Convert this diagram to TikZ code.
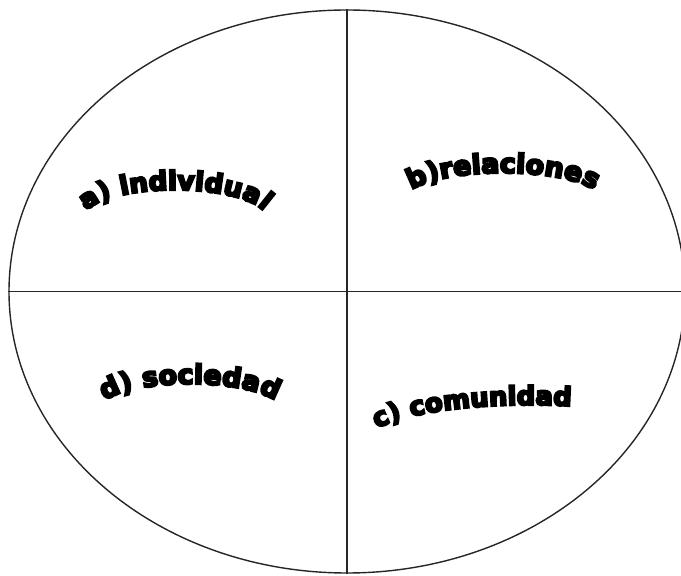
\documentclass[tikz,border=0pt]{standalone}
\usepackage{fontspec}
\usetikzlibrary{shapes.geometric,decorations.text}
\newfontfamily\lblfont[FakeBold=8]{DejaVu Sans Bold}
\tikzset{
  oval/.style={draw=black!85,line width=1.4pt,ellipse,inner sep=0pt,
               minimum width=676pt,minimum height=563pt},
  divider/.style={draw=black!85,line width=1.1pt},
  arched/.style 2 args={decorate,decoration={text along path,text align=center,
               text={|\fontsize{#1}{#1}\selectfont\lblfont|#2}}},
}
\begin{document}
\begin{tikzpicture}[x=1pt,y=1pt]
\useasboundingbox (0,0) rectangle (681,576);

% ============ OVAL + QUADRANTS ============
\node[oval] (oval) at (347,284.5) {};
\draw[divider] (oval.north) -- (oval.south);
\draw[divider] (oval.west) -- (oval.east);

% ============ ARCHED LABELS ============
% upper quadrants
\path[arched={26.5}{a) individual}] (175,357) ++(178:92 and 29) arc[start angle=178,end angle=2,x radius=92,y radius=29];
\path[arched={27}{b)relaciones}] (503,376) ++(178:98 and 27) arc[start angle=178,end angle=2,x radius=98,y radius=27];
% lower quadrants
\path[arched={27}{d) sociedad}] (190,165) ++(178:92 and 27) arc[start angle=178,end angle=2,x radius=92,y radius=27];
\path[arched={26}{c) comunidad},decoration={text align=left}] (530,133) ++(158:165 and 38) arc[start angle=158,end angle=40,x radius=165,y radius=38];

\end{tikzpicture}
\end{document}
